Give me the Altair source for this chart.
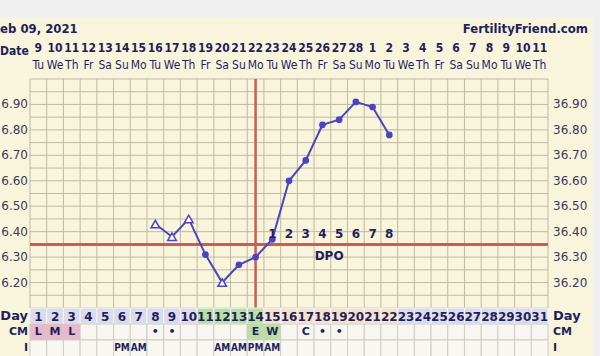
import altair as alt
import pandas as pd
import numpy as np

# ---------------- data ----------------
cycle_days = list(range(1, 32))
date_nums = [9, 10, 11, 12, 13, 14, 15, 16, 17, 18, 19, 20, 21, 22, 23, 24, 25, 26, 27, 28,
             1, 2, 3, 4, 5, 6, 7, 8, 9, 10, 11]
weekday_names = ["Tu", "We", "Th", "Fr", "Sa", "Su", "Mo"]
weekdays = [weekday_names[i % 7] for i in range(31)]

temp_days = [8, 9, 10, 11, 12, 13, 14, 15, 16, 17, 18, 19, 20, 21, 22]
temps = [36.43, 36.38, 36.45, 36.31, 36.20, 36.27, 36.30, 36.37, 36.60, 36.68, 36.82, 36.84, 36.91, 36.89, 36.78]
open_marker = [True, True, True, False, True, False, False, False, False, False, False, False, False, False, False]

coverline = 36.35
ovulation_day = 14
dpo_days = [15, 16, 17, 18, 19, 20, 21, 22]
dpo_labels = ["1", "2", "3", "4", "5", "6", "7", "8"]

y_tick_values = [36.20, 36.30, 36.40, 36.50, 36.60, 36.70, 36.80, 36.90]

day_phase = (["base"] * 10 + ["fertile"] * 4 + ["luteal"] * 8 + ["base"] * 9)

cm_days = [1, 2, 3, 8, 9, 14, 15, 17, 18, 19]
cm_texts = ["L", "M", "L", "•", "•", "E", "W", "C", "•", "•"]
cm_pink_days = [1, 2, 3]
cm_green_days = [14, 15]

i_days = [6, 7, 12, 13, 14, 15]
i_texts = ["PM", "AM", "AM", "AM", "PM", "AM"]

# ---------------- style ----------------
W, H = 600, 356
NAVY = "#1f1f5c"
BLUE = "#4a44c4"
RED = "#d05858"
CREAM = "#f9f4dc"
GRID = "#bfbaa4"
FONT = "DejaVu Sans"
FONTC = "DejaVu Sans Condensed"

xs = alt.Scale(domain=[-1.295, 34.61], nice=False, zero=False)
ys = alt.Scale(domain=[35.9113, 37.3105], nice=False, zero=False)

def X(field="day"):
    return alt.X(f"{field}:Q", scale=xs, axis=None)

def Y(field="t"):
    return alt.Y(f"{field}:Q", scale=ys, axis=None)

# background panel
panel = alt.Chart(pd.DataFrame({"a": [0]})).mark_rect(color=CREAM).encode(
    x=alt.value(0), x2=alt.value(593), y=alt.value(18), y2=alt.value(356))

# grid
vgrid = pd.DataFrame({"day": np.arange(0.5, 32.0, 1.0), "t": 37.00, "t2": 36.10})
vgrid_l = alt.Chart(vgrid).mark_rule(color=GRID, strokeWidth=1).encode(
    x=X(), y=Y("t"), y2="t2:Q")
hvals = np.round(np.arange(36.10, 37.0001, 0.05), 2)
hgrid = pd.DataFrame({"t": hvals, "day": 0.5, "day2": 31.5})
hgrid_l = alt.Chart(hgrid).mark_rule(color=GRID, strokeWidth=1).encode(
    x=X(), x2="day2:Q", y=Y())

# coverline and ovulation line
cover = alt.Chart(pd.DataFrame({"t": [coverline], "day": 0.5, "day2": 31.5})).mark_rule(
    color=RED, strokeWidth=3).encode(x=X(), x2="day2:Q", y=Y())
ovu = alt.Chart(pd.DataFrame({"day": [ovulation_day], "t": 37.00, "t2": 36.10})).mark_rule(
    color=RED, strokeWidth=2.5).encode(x=X(), y=Y(), y2="t2:Q")

# temperature line + markers
tdf = pd.DataFrame({"day": temp_days, "t": temps, "open": open_marker})
line = alt.Chart(tdf).mark_line(color=BLUE, strokeWidth=2).encode(x=X(), y=Y())
dots = alt.Chart(tdf[~tdf["open"]]).mark_point(
    shape="circle", filled=True, color=BLUE, size=45, opacity=1).encode(x=X(), y=Y())
tris = alt.Chart(tdf[tdf["open"]]).mark_point(
    shape="triangle-up", filled=True, fill="#fdfbf3", stroke=BLUE, strokeWidth=1.5,
    size=75, opacity=1).encode(x=X(), y=Y())

# DPO labels
dpo = alt.Chart(pd.DataFrame({"day": dpo_days, "lab": dpo_labels})).mark_text(
    font=FONT, fontSize=12, fontWeight="bold", color=NAVY).encode(
    x=X(), y=alt.value(234), text="lab:N")
dpo_word = alt.Chart(pd.DataFrame({"day": [18.4], "lab": ["DPO"]})).mark_text(
    font=FONT, fontSize=12, fontWeight="bold", color=NAVY).encode(
    x=X(), y=alt.value(256), text="lab:N")

# y labels
ylab = pd.DataFrame({"t": y_tick_values})
ylab["r"] = [f"{v:.2f}" for v in y_tick_values]
ylab["l"] = [f"{v:.2f}"[1:] for v in y_tick_values]
ylab_r = alt.Chart(ylab).mark_text(font=FONT, fontSize=12, color="#3a3a5a", align="left").encode(
    x=alt.value(553), y=Y(), text="r:N")
ylab_l = alt.Chart(ylab).mark_text(font=FONT, fontSize=12, color="#3a3a5a", align="right").encode(
    x=alt.value(28), y=Y(), text="l:N")

# header
hdr = pd.DataFrame({"day": cycle_days, "date": [str(d) for d in date_nums], "wd": weekdays})
date_row = alt.Chart(hdr).mark_text(font=FONTC, fontSize=12, fontWeight="bold", color=NAVY).encode(
    x=X(), y=alt.value(48), text="date:N")
wd_row = alt.Chart(hdr).mark_text(font=FONTC, fontSize=12, color=NAVY).encode(
    x=X(), y=alt.value(65), text="wd:N")

titles = pd.DataFrame({"txt": ["eb 09, 2021"]})
title_l = alt.Chart(titles).mark_text(font=FONTC, fontSize=13, fontWeight="bold", color=NAVY,
                                      align="left", baseline="alphabetic").encode(
    x=alt.value(0), y=alt.value(33), text="txt:N")
title_r = alt.Chart(pd.DataFrame({"txt": ["FertilityFriend.com"]})).mark_text(
    font=FONTC, fontSize=13, fontWeight="bold", color=NAVY, align="right", baseline="alphabetic").encode(
    x=alt.value(588), y=alt.value(33), text="txt:N")
date_word = alt.Chart(pd.DataFrame({"txt": ["Date"]})).mark_text(
    font=FONTC, fontSize=12, fontWeight="bold", color=NAVY, align="left").encode(
    x=alt.value(0), y=alt.value(51), text="txt:N")

# table rows
row_top = {"Day": 308, "CM": 324, "I": 340}
row_h = 16
tab = pd.DataFrame({"day": cycle_days, "phase": day_phase, "day_lo": [d - 0.5 for d in cycle_days],
                    "day_hi": [d + 0.5 for d in cycle_days], "lab": [str(d) for d in cycle_days]})
phase_scale = alt.Scale(domain=["base", "fertile", "luteal"], range=["#dcdbec", "#b9e0a2", "#f7e1cb"])
day_cells = alt.Chart(tab).mark_rect(stroke="#f4f4f4", strokeWidth=1).encode(
    x=alt.X("day_lo:Q", scale=xs, axis=None), x2="day_hi:Q",
    y=alt.value(row_top["Day"]), y2=alt.value(row_top["Day"] + row_h),
    color=alt.Color("phase:N", scale=phase_scale, legend=None))
day_txt = alt.Chart(tab).mark_text(font=FONT, fontSize=12, fontWeight="bold", color=NAVY).encode(
    x=X(), y=alt.value(row_top["Day"] + 8.5), text="lab:N")

cm_bg = ["pink" if d in cm_pink_days else ("green" if d in cm_green_days else "none") for d in cycle_days]
tab["cm_bg"] = cm_bg
cm_scale = alt.Scale(domain=["pink", "green", "none"], range=["#e7b9c9", "#b9e0a2", "#f7f6f0"])
cm_cells = alt.Chart(tab).mark_rect(stroke="#cfcdc4", strokeWidth=1).encode(
    x=alt.X("day_lo:Q", scale=xs, axis=None), x2="day_hi:Q",
    y=alt.value(row_top["CM"]), y2=alt.value(row_top["CM"] + row_h),
    fill=alt.Fill("cm_bg:N", scale=cm_scale, legend=None))
cm_txt = alt.Chart(pd.DataFrame({"day": cm_days, "lab": cm_texts})).mark_text(
    font=FONT, fontSize=11, fontWeight="bold", color=NAVY).encode(
    x=X(), y=alt.value(row_top["CM"] + 8), text="lab:N")

i_cells = alt.Chart(tab).mark_rect(stroke="#cfcdc4", strokeWidth=1, color="#f8f7f2").encode(
    x=alt.X("day_lo:Q", scale=xs, axis=None), x2="day_hi:Q",
    y=alt.value(row_top["I"]), y2=alt.value(row_top["I"] + row_h + 2))
i_txt = alt.Chart(pd.DataFrame({"day": i_days, "lab": i_texts})).mark_text(
    font=FONTC, fontSize=10, fontWeight="bold", color=NAVY).encode(
    x=X(), y=alt.value(row_top["I"] + 8), text="lab:N")

left_rows = []
right_rows = []
for nm, fs in zip(["Day", "CM", "I"], [13, 11, 11]):
    d = pd.DataFrame({"name": [nm]})
    left_rows.append(alt.Chart(d).mark_text(font=FONT, fontSize=fs, fontWeight="bold", color=NAVY,
                                            align="right").encode(
        x=alt.value(28), y=alt.value(row_top[nm] + 8), text="name:N"))
    right_rows.append(alt.Chart(d).mark_text(font=FONT, fontSize=fs, fontWeight="bold", color=NAVY,
                                             align="left").encode(
        x=alt.value(553), y=alt.value(row_top[nm] + 8), text="name:N"))

chart = alt.layer(
    panel, vgrid_l, hgrid_l, cover, ovu, line, tris, dots, dpo, dpo_word,
    ylab_r, ylab_l, date_row, wd_row, title_l, title_r, date_word,
    day_cells, day_txt, cm_cells, cm_txt, i_cells, i_txt, *left_rows, *right_rows
).properties(
    width=W, height=H, padding=0, background="#f0f0f0",
    autosize=alt.AutoSizeParams(type="none")
).configure_view(stroke=None)

chart.save("out.html", embed_options={"renderer": "svg", "actions": False})
